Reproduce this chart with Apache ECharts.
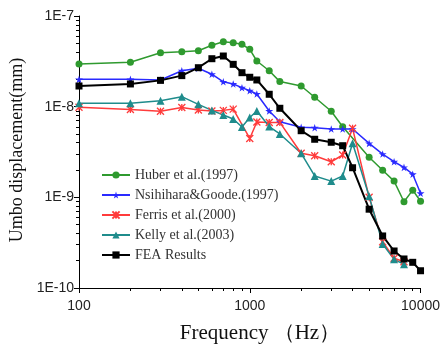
<!DOCTYPE html>
<html>
<head>
<meta charset="utf-8">
<script src="https://cdn.jsdelivr.net/npm/echarts@6/dist/echarts.min.js"></script>
<style>
html,body{margin:0;padding:0;background:#fff}
#c{width:443px;height:344px}
</style>
</head>
<body>
<div id="c"></div>
<script>
// Umbo displacement vs. frequency: measured data from the literature and FEA model
const huberFreq = [100,200,300,400,500,600,700,800,900,1000,1100,1300,1500,2000,2400,3000,3500,5000,6000,7000,8000,9000,10000];
const huberVal  = [2.96e-8,3.09e-8,3.94e-8,4.04e-8,4.14e-8,4.75e-8,5.21e-8,5.08e-8,4.88e-8,4.29e-8,3.19e-8,2.49e-8,1.89e-8,1.69e-8,1.27e-8,8.9e-9,6.0e-9,2.77e-9,1.99e-9,1.51e-9,8.95e-10,1.2e-9,9.06e-10];

const goodeFreq = [100,200,300,400,500,600,700,800,900,1000,1100,1300,1500,2000,2400,3000,3500,4000,5000,6000,7000,8000,9000,10000];
const goodeVal  = [2.0e-8,2.0e-8,1.97e-8,2.49e-8,2.65e-8,2.28e-8,1.88e-8,1.78e-8,1.62e-8,1.5e-8,1.38e-8,8.96e-9,6.83e-9,5.92e-9,5.86e-9,5.67e-9,5.67e-9,5.67e-9,3.94e-9,3.0e-9,2.47e-9,2.14e-9,1.8e-9,1.11e-9];

const ferrisFreq = [100,200,300,400,500,600,700,800,1000,1100,1300,1500,2000,2400,3000,3500,4000,5000,6000,7000,8000];
const ferrisVal  = [9.84e-9,9.3e-9,8.9e-9,9.8e-9,9.2e-9,8.96e-9,9.1e-9,9.4e-9,4.46e-9,6.78e-9,6.7e-9,6.7e-9,3.06e-9,2.88e-9,2.47e-9,2.93e-9,5.77e-9,1.0e-9,3.24e-10,2.13e-10,1.95e-10];

const kellyFreq = [100,200,300,400,500,600,700,800,900,1000,1100,1300,1500,2000,2400,3000,3500,4000,5000,6000,7000,8000];
const kellyVal  = [1.09e-8,1.09e-8,1.16e-8,1.29e-8,1.06e-8,9.1e-9,8.1e-9,7.31e-9,5.97e-9,7.6e-9,8.96e-9,6.04e-9,5.0e-9,3.06e-9,1.72e-9,1.51e-9,1.72e-9,3.94e-9,1.03e-9,3.06e-10,2.07e-10,1.83e-10];

const feaFreq = [100,200,300,400,500,600,700,800,900,1000,1100,1300,1500,2000,2400,3000,3500,4000,5000,6000,7000,8000,9000,10000];
const feaVal  = [1.69e-8,1.78e-8,1.95e-8,2.2e-8,2.69e-8,3.38e-8,3.62e-8,2.93e-8,2.37e-8,2.11e-8,1.97e-8,1.37e-8,9.6e-9,5.43e-9,4.37e-9,4.05e-9,3.71e-9,2.12e-9,7.4e-10,3.75e-10,2.56e-10,2.09e-10,1.92e-10,1.55e-10];

const seriesNames = ['Huber et al.(1997)','Nsihihara&Goode.(1997)','Ferris et al.(2000)','Kelly et al.(2003)','FEA Results'];

// Minor ticks of a log axis, expressed as exponents (log10 of 2..9 within each decade),
// drawn on a hidden linear axis spanning the same decades.
function minorExponents(lo, hi) {
  const out = [];
  for (let e = lo; e < hi; e++) {
    for (let k = 2; k <= 9; k++) out.push(e + Math.log10(k));
  }
  return out;
}
const xMinor = minorExponents(2, 4);
const yMinor = minorExponents(-10, -7);

const STAR = 'path://M50,0 L61,35 L98,35 L68,57 L79,91 L50,70 L21,91 L32,57 L2,35 L39,35 Z';
const ASTER = 'path://M0,0 L10,10 M10,0 L0,10 M5,0 L5,10';

function pairs(f, v) { return f.map((x, i) => [x, v[i]]); }

function mkSeries(name, f, v, color, symbol, size, extra) {
  return Object.assign({
    name, type: 'line', data: pairs(f, v),
    xAxisIndex: 0, yAxisIndex: 0,
    symbol, symbolSize: size, symbolKeepAspect: true,
    showAllSymbol: true,
    lineStyle: { color, width: 1.5 },
    itemStyle: { color },
    emphasis: { disabled: true },
    animation: false
  }, extra || {});
}

const axisFont = { fontFamily: 'Liberation Sans, Arial, sans-serif', fontSize: 14, color: '#222' };

const chart = echarts.init(document.getElementById('c'), null, { renderer: 'canvas' });
chart.setOption({
  animation: false,
  backgroundColor: '#fff',
  grid: { left: 79, right: 22, top: 16, bottom: 56, containLabel: false },
  xAxis: [
    {
      type: 'log', logBase: 10, min: 100, max: 10000,
      axisLine: { show: true, lineStyle: { color: '#000', width: 1 } },
      axisTick: { show: true, length: 5, lineStyle: { color: '#000' } },
      axisLabel: Object.assign({ margin: 11, formatter: v => String(Math.round(v)) }, axisFont),
      splitLine: { show: false }
    },
    {
      type: 'value', min: 2, max: 4, position: 'bottom',
      axisLine: { show: false },
      axisTick: { show: true, length: 3, customValues: xMinor, lineStyle: { color: '#000' } },
      axisLabel: { show: false },
      splitLine: { show: false }
    }
  ],
  yAxis: [
    {
      type: 'log', logBase: 10, min: 1e-10, max: 1e-7,
      axisLine: { show: true, lineStyle: { color: '#000', width: 1 } },
      axisTick: { show: true, length: 5, lineStyle: { color: '#000' } },
      axisLabel: Object.assign({
        margin: 5,
        formatter: v => '1E' + Math.round(Math.log10(v))
      }, axisFont),
      splitLine: { show: false }
    },
    {
      type: 'value', min: -10, max: -7, position: 'left',
      axisLine: { show: false },
      axisTick: { show: true, length: 3, customValues: yMinor, lineStyle: { color: '#000' } },
      axisLabel: { show: false },
      splitLine: { show: false }
    }
  ],
  legend: {
    orient: 'vertical', left: 96, top: 163,
    itemWidth: 28, itemHeight: 9, itemGap: 6,
    padding: 5,
    textStyle: { fontFamily: 'Liberation Serif, Times New Roman, serif', fontSize: 14, color: '#333' },
    data: seriesNames
  },
  graphic: [
    {
      type: 'text', x: 17, y: 150, rotation: Math.PI / 2,
      style: {
        text: 'Umbo displacement(mm)', align: 'center', verticalAlign: 'middle',
        font: '18px "Liberation Serif", serif', fill: '#111'
      }
    },
    {
      type: 'text', x: 260, y: 333,
      style: {
        text: 'Frequency （Hz）', align: 'center', verticalAlign: 'middle',
        font: '21px "Liberation Serif", serif', fill: '#111'
      }
    }
  ],
  series: [
    mkSeries(seriesNames[0], huberFreq, huberVal, '#2f9a2f', 'circle', 7),
    mkSeries(seriesNames[1], goodeFreq, goodeVal, '#2a2aff', STAR, 8),
    mkSeries(seriesNames[2], ferrisFreq, ferrisVal, '#ff3b3b', ASTER, 7,
      { itemStyle: { color: '#ff3b3b', borderColor: '#ff3b3b', borderWidth: 1.3 } }),
    mkSeries(seriesNames[3], kellyFreq, kellyVal, '#1f8c8c', 'triangle', 8),
    mkSeries(seriesNames[4], feaFreq, feaVal, '#000000', 'rect', 7, { lineStyle: { color: '#000', width: 2 } })
  ]
});
</script>
</body>
</html>
